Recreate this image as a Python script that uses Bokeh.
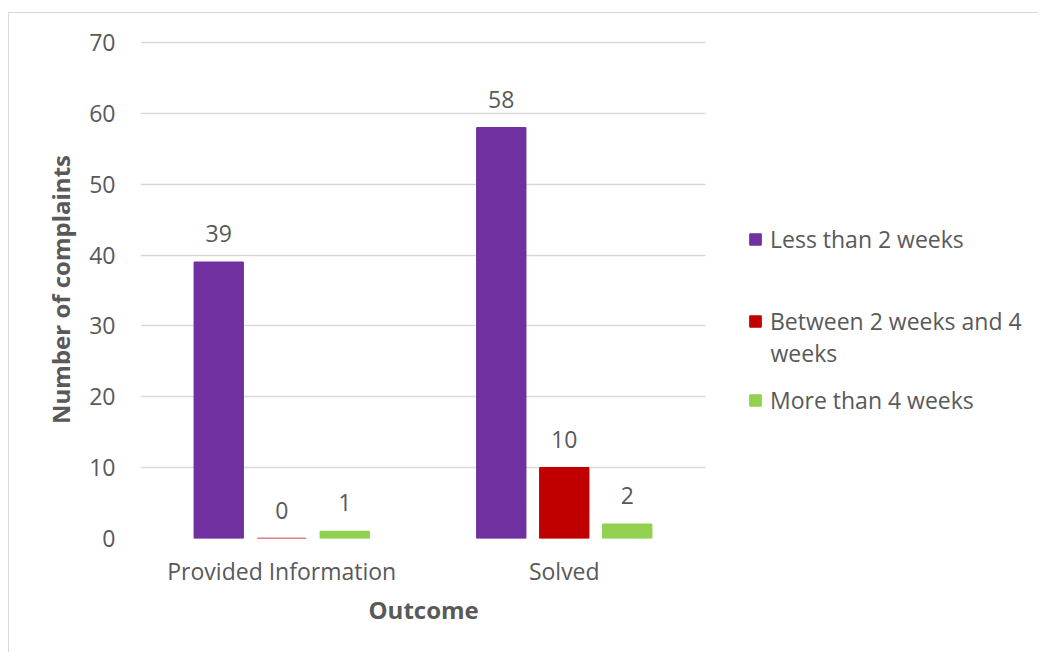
from bokeh.plotting import figure
from bokeh.models import Range1d, Legend, LegendItem, ColumnDataSource, LabelSet, Title, Label
from bokeh.core.properties import value
from bokeh.embed import file_html
from bokeh.resources import INLINE

categories = ["Provided Information", "Solved"]
series_names = ["Less than 2 weeks", "Between 2 weeks and 4 weeks", "More than 4 weeks"]
less_2w = [39, 58]
between_2_4w = [0, 10]
more_4w = [1, 2]
y_ticks = [0, 10, 20, 30, 40, 50, 60, 70]

colors = ["#7030A0", "#C00000", "#92D050"]
FONT = "Open Sans"
TXT = "#595959"
FS = "23px"

cat_pos = [i + 0.5 for i in range(len(categories))]
frame_w = 899
px_per_cat = 282.5
x_end = frame_w / px_per_cat

p = figure(x_range=Range1d(0, x_end), y_range=Range1d(0, 70.3),
           width=1030, height=640, output_backend="svg", toolbar_location=None,
           min_border_left=131, min_border_right=0, min_border_top=27, min_border_bottom=115)
p.styles = {"border-left": "1px solid #d9d9d9", "border-top": "1px solid #d9d9d9",
            "margin-left": "8px", "margin-top": "12px"}
p.outline_line_color = None
p.xgrid.grid_line_color = None
p.ygrid.grid_line_color = "#d9d9d9"
p.ygrid.grid_line_width = 1.5
p.ygrid.cross_bounds = (0, len(categories))
p.yaxis.ticker = y_ticks
p.xaxis.ticker = cat_pos
p.xaxis.major_label_overrides = {cat_pos[i]: categories[i] for i in range(len(categories))}

for ax in (p.xaxis[0], p.yaxis[0]):
    ax.axis_line_color = None
    ax.major_tick_line_color = None
    ax.minor_tick_line_color = None
    ax.major_label_text_font = FONT
    ax.major_label_text_font_size = FS
    ax.major_label_text_color = TXT
    ax.axis_label_text_font = FONT
    ax.axis_label_text_font_size = "24px"
    ax.axis_label_text_font_style = "bold"
    ax.axis_label_text_color = TXT

p.yaxis.axis_label = "Number of complaints"
p.yaxis.major_label_standoff = 19
p.yaxis.axis_label_standoff = 9
p.xaxis.major_label_standoff = 10

p.add_layout(Title(text="Outcome", align="left", offset=228, text_font=FONT,
                   text_font_size="24px", text_font_style="bold", text_color=TXT,
                   standoff=3), "below")

offsets = [-0.223, 0.0, 0.223]
series = [less_2w, between_2_4w, more_4w]
renderers = []
for i in range(3):
    src = ColumnDataSource(dict(x=[c + offsets[i] for c in cat_pos], top=series[i],
                                lbl=[str(v) for v in series[i]]))
    r = p.vbar(x="x", top="top", bottom=0, width=0.173, source=src,
               fill_color=colors[i], line_color=colors[i], line_width=1.5)
    renderers.append(r)
    p.add_layout(LabelSet(x="x", y="top", text="lbl", source=src,
                          text_align="center", text_baseline="bottom", y_offset=20,
                          text_font=value(FONT), text_font_size=value(FS),
                          text_color=TXT))

legend_lines = ["Less than 2 weeks", "Between 2 weeks and 4", "More than 4 weeks"]
locs = [(608, 283), (608, 201), (608, 122)]
for i in range(3):
    lg = Legend(items=[LegendItem(label=legend_lines[i], renderers=[renderers[i]])], location=locs[i],
                border_line_color=None, background_fill_alpha=0, padding=0, margin=0,
                glyph_width=14, glyph_height=14, label_standoff=8,
                label_text_font=FONT, label_text_font_size=FS, label_text_color=TXT,
                label_text_line_height=1.3)
    p.add_layout(lg)
# wrapped continuation of the second legend entry
p.add_layout(Label(x=630 / px_per_cat, y=186 / 7.086, text="weeks", text_baseline="middle",
                   text_align="left", text_font=FONT, text_font_size=FS, text_color=TXT))

open("out.html", "w").write(file_html(p, INLINE))
